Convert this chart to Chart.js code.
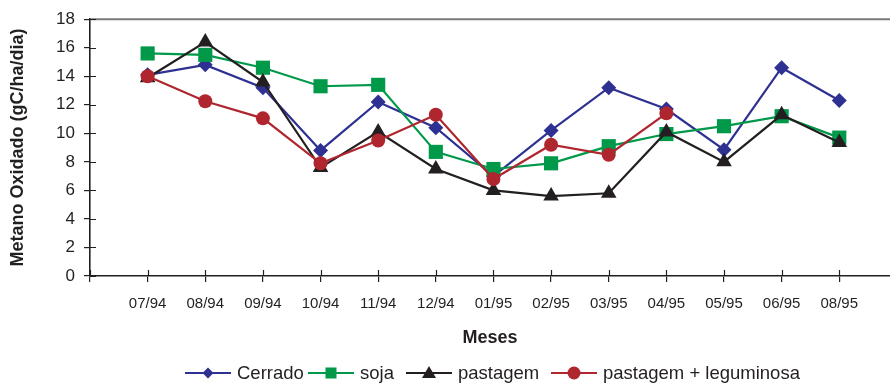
<!DOCTYPE html>
<html>
<head>
<meta charset="utf-8">
<script src="https://cdn.jsdelivr.net/npm/chart.js@4.4.1/dist/chart.umd.min.js"></script>
<style>
  body { margin: 0; background: #fff; }
  #wrap { position: relative; width: 890px; height: 384px; }
  #legend {
    position: absolute; left: 0; top: 363px; width: 890px; height: 20px;
    font: 18.5px "Liberation Sans", Arial, sans-serif; color: #231f20;
  }
  .item { position: absolute; top: 0; height: 20px; display: flex; align-items: center; white-space: nowrap; }
  .item svg { margin-right: 6px; }
</style>
</head>
<body>
<div id="wrap">
  <canvas id="chart" width="890" height="384"></canvas>
  <div id="legend"></div>
</div>
<script>
/* --------------------- DATA -------------------- */
const months = ["07/94", "08/94", "09/94", "10/94", "11/94", "12/94", "01/95",
                "02/95", "03/95", "04/95", "05/95", "06/95", "08/95"];

const cerrado   = [14.1, 14.8, 13.2, 8.8, 12.2, 10.4, 7.0, 10.2, 13.2, 11.7, 8.85, 14.6, 12.3];
const soja      = [15.6, 15.5, 14.6, 13.3, 13.4, 8.7, 7.5, 7.9, 9.1, 9.95, 10.5, 11.2, 9.7];
const pastagem  = [13.9, 16.4, 13.6, 7.6, 10.1, 7.5, 6.0, 5.6, 5.8, 10.1, 8.0, 11.3, 9.35];
const pastLegum = [14.0, 12.25, 11.05, 7.9, 9.5, 11.3, 6.8, 9.2, 8.5, 11.4];

const seriesNames = ["Cerrado", "soja", "pastagem", "pastagem + leguminosa"];

/* --------------------- STYLE ------------------- */
const FONT = '"Liberation Sans", Arial, sans-serif';
const INK = "#231f20";
const colors = ["#2e3192", "#00994a", "#231f20", "#b0262f"];
const shapes = ["rectRot", "rect", "triangle", "circle"];
const radii = [7.5, 10, 9, 7];
const legendLeft = [185, 308, 406, 551];

function toPoints(arr) {
  return arr.map((v, i) => ({ x: i + 1, y: v }));
}

/* cross ticks + grey top frame line */
const frame = {
  id: "frame",
  afterDraw(chart) {
    const { ctx, chartArea: a, scales: { x, y } } = chart;
    ctx.save();
    ctx.strokeStyle = "#7a7a7a";
    ctx.lineWidth = 2;
    ctx.beginPath();
    ctx.moveTo(a.left, a.top);
    ctx.lineTo(a.right, a.top);
    ctx.stroke();
    ctx.strokeStyle = INK;
    ctx.lineWidth = 1.2;
    ctx.beginPath();
    x.ticks.forEach((t) => {
      const px = Math.round(x.getPixelForValue(t.value)) + 0.5;
      ctx.moveTo(px, a.bottom - 6);
      ctx.lineTo(px, a.bottom);
    });
    y.ticks.forEach((t) => {
      const py = Math.round(y.getPixelForValue(t.value)) + 0.5;
      ctx.moveTo(a.left, py);
      ctx.lineTo(a.left + 6, py);
    });
    ctx.stroke();
    ctx.restore();
  }
};

const series = [cerrado, soja, pastagem, pastLegum];

new Chart(document.getElementById("chart"), {
  type: "line",
  data: {
    datasets: series.map((s, i) => ({
      label: seriesNames[i],
      data: toPoints(s),
      borderColor: colors[i],
      backgroundColor: colors[i],
      borderWidth: 2.2,
      pointStyle: shapes[i],
      pointRadius: radii[i],
      pointBorderWidth: 0,
      tension: 0,
      clip: false,
      order: 3 - i
    }))
  },
  options: {
    responsive: false,
    animation: false,
    layout: { autoPadding: false, padding: { top: 18, right: 0, left: 0, bottom: 0 } },
    plugins: { legend: { display: false }, tooltip: { enabled: false } },
    scales: {
      x: {
        type: "linear",
        min: 0,
        max: 13.88,
        afterFit: (s) => { s.height = 108; s.paddingRight = 0; s.paddingLeft = 0; },
        grid: { drawOnChartArea: false, tickLength: 6, color: INK, lineWidth: 1.2 },
        border: { color: INK, width: 1.6 },
        ticks: {
          stepSize: 1,
          includeBounds: false,
          autoSkip: false,
          maxRotation: 0,
          padding: 13,
          color: INK,
          font: { family: FONT, size: 15 },
          callback: (v) => months[v - 1] || ""
        },
        title: {
          display: true,
          text: "Meses",
          color: INK,
          font: { family: FONT, size: 18, weight: "bold" },
          padding: { top: 0, bottom: 35 }
        }
      },
      y: {
        min: 0,
        max: 18,
        afterFit: (s) => { s.width = 90; },
        grid: { drawOnChartArea: false, tickLength: 6, color: INK, lineWidth: 1.2 },
        border: { color: INK, width: 1.6 },
        ticks: {
          stepSize: 2,
          padding: 9,
          color: INK,
          font: { family: FONT, size: 17 }
        },
        title: {
          display: true,
          text: "Metano Oxidado (gC/ha/dia)",
          color: INK,
          font: { family: FONT, size: 18, weight: "bold" },
          padding: { top: 7, bottom: 0 }
        }
      }
    }
  },
  plugins: [frame]
});

/* --------------------- LEGEND ------------------ */
function markerSvg(i) {
  const c = colors[i];
  let m = "";
  if (shapes[i] === "rectRot") m = `<polygon points="23,4.5 28.5,10 23,15.5 17.5,10" fill="${c}"/>`;
  if (shapes[i] === "rect") m = `<rect x="17.5" y="4.5" width="11" height="11" fill="${c}"/>`;
  if (shapes[i] === "triangle") m = `<polygon points="23,3 30,15 16,15" fill="${c}"/>`;
  if (shapes[i] === "circle") m = `<circle cx="23" cy="10" r="6.5" fill="${c}"/>`;
  return `<svg width="46" height="20"><line x1="0" y1="10" x2="46" y2="10" stroke="${c}" stroke-width="2.2"/>${m}</svg>`;
}

const legendDiv = document.getElementById("legend");
seriesNames.forEach((name, i) => {
  const item = document.createElement("div");
  item.className = "item";
  item.style.left = legendLeft[i] + "px";
  item.innerHTML = markerSvg(i) + `<span>${name}</span>`;
  legendDiv.appendChild(item);
});
</script>
</body>
</html>
